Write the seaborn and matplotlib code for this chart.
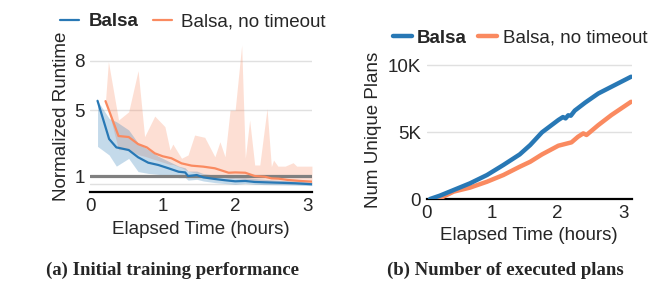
import numpy as np
import pandas as pd
import seaborn as sns
import matplotlib.pyplot as plt

# (a) normalized runtime vs elapsed hours
balsa_h = [0.10, 0.26, 0.36, 0.53, 0.66, 0.80, 0.94, 1.08, 1.22, 1.31, 1.35, 1.47, 1.56,
           1.72, 1.85, 2.00, 2.14, 2.27, 2.40, 2.55, 2.70, 2.83, 2.95, 3.06]
balsa_rt = [5.57, 3.25, 2.74, 2.58, 2.14, 1.81, 1.67, 1.47, 1.26, 1.22, 1.00, 1.06, 0.92,
            0.82, 0.75, 0.68, 0.70, 0.64, 0.62, 0.60, 0.58, 0.56, 0.53, 0.50]
balsa_lo = [2.80, 2.28, 1.60, 2.07, 1.27, 1.16, 1.10, 1.05, 0.90, 0.90, 0.75, 0.80, 0.70,
            0.60, 0.55, 0.50, 0.55, 0.50, 0.48, 0.47, 0.46, 0.45, 0.43, 0.42]
balsa_hi = [5.57, 4.50, 4.30, 3.80, 3.00, 2.60, 2.20, 1.90, 1.60, 1.50, 1.30, 1.30, 1.15,
            1.05, 0.95, 0.90, 0.90, 0.85, 0.80, 0.75, 0.72, 0.70, 0.66, 0.62]

nt_h = [0.21, 0.39, 0.53, 0.66, 0.78, 0.89, 1.00, 1.12, 1.26, 1.40, 1.56, 1.72, 1.91,
        2.00, 2.14, 2.27, 2.41, 2.50, 2.60, 2.73, 2.90, 3.06]
nt_rt = [5.55, 3.43, 3.37, 2.94, 2.74, 2.38, 2.20, 2.08, 1.77, 1.63, 1.57, 1.47, 1.20,
         1.22, 1.20, 1.00, 0.96, 0.86, 0.84, 0.76, 0.70, 0.66]

nt_band_h = [0.21, 0.25, 0.39, 0.53, 0.66, 0.75, 0.89, 1.03, 1.10, 1.14, 1.26, 1.35, 1.44,
             1.58, 1.72, 1.79, 1.86, 1.93, 2.00, 2.09, 2.14, 2.20, 2.27, 2.34, 2.44, 2.50,
             2.53, 2.59, 2.69, 2.80, 2.85, 3.06]
nt_hi = [5.55, 7.95, 4.40, 4.90, 7.40, 3.39, 4.64, 4.00, 2.58, 2.94, 2.08, 2.28, 3.49,
         3.35, 2.17, 3.08, 2.17, 5.00, 5.00, 8.95, 2.08, 4.40, 1.67, 1.67, 5.10, 1.57,
         1.97, 1.60, 1.60, 1.81, 1.60, 1.60]
nt_lo = [5.55, 5.00, 2.60, 2.60, 2.30, 2.20, 2.00, 1.80, 1.70, 1.70, 1.50, 1.30, 1.20,
         1.10, 1.00, 0.95, 0.90, 0.85, 0.85, 0.80, 0.80, 0.75, 0.70, 0.70, 0.65, 0.62,
         0.60, 0.60, 0.58, 0.56, 0.55, 0.52]

# (b) number of unique plans executed
plans_balsa_h = [0.05, 0.20, 0.41, 0.66, 0.92, 1.17, 1.42, 1.58, 1.76, 2.01, 2.08, 2.12,
                 2.16, 2.20, 2.26, 2.42, 2.62, 2.82, 3.12]
plans_balsa = [0, 250, 670, 1170, 1790, 2540, 3330, 4030, 4980, 5900, 6120, 6020,
               6250, 6220, 6600, 7200, 7880, 8380, 9130]
plans_nt_h = [0.18, 0.41, 0.66, 0.92, 1.17, 1.42, 1.58, 1.76, 2.01, 2.21, 2.31, 2.39,
              2.44, 2.62, 2.82, 3.12]
plans_nt = [0, 550, 850, 1290, 1790, 2410, 2780, 3330, 3980, 4230, 4650, 4900,
            4780, 5520, 6270, 7260]

blue = "#2878b5"
orange = "#fa8a60"
grid_c = "#e0e0e0"

sns.set_style("white")
plt.rcParams['font.family'] = ['Liberation Sans', 'DejaVu Sans']
plt.rcParams['font.size'] = 13.5

fig = plt.figure(figsize=(6.5, 2.88), dpi=100)
ax1 = fig.add_axes([0.1389, 0.3316, 0.341, 0.526])
ax2 = fig.add_axes([0.6565, 0.309, 0.3154, 0.479])

# ---- left panel
for y in [0.5, 5, 8]:
    ax1.axhline(y, color=grid_c, lw=1.0, zorder=0)
ax1.fill_between(nt_band_h, nt_lo, nt_hi, color=orange, alpha=0.27, lw=0, zorder=1)
ax1.fill_between(balsa_h, balsa_lo, balsa_hi, color=blue, alpha=0.27, lw=0, zorder=1)
ax1.axhline(1, color="#808080", lw=2.3, zorder=2)
sns.lineplot(x=nt_h, y=nt_rt, ax=ax1, color=orange, lw=1.6, label="Balsa, no timeout", zorder=3)
sns.lineplot(x=balsa_h, y=balsa_rt, ax=ax1, color=blue, lw=1.6, label="Balsa", zorder=4)
ax1.set_xlim(0, 3.06)
ax1.set_ylim(0, 9.2)
ax1.set_yticks([1, 5, 8])
ax1.set_xticks([0, 1, 2, 3])
ax1.set_xlabel("Elapsed Time (hours)")
ax1.set_ylabel("Normalized Runtime", labelpad=3)
h1, l1 = ax1.get_legend_handles_labels()
ax1.legend_.remove()
leg1 = fig.legend(h1[::-1], l1[::-1], loc="center", bbox_to_anchor=(0.297, 0.925), ncol=2,
                  frameon=False, handlelength=1.0, handletextpad=0.5, columnspacing=0.8,
                  borderpad=0, fontsize=13.5)
leg1.get_texts()[0].set_fontweight("bold")

# ---- right panel
for y in [5000, 10000]:
    ax2.axhline(y, color=grid_c, lw=1.0, zorder=0)
sns.lineplot(x=plans_nt_h, y=plans_nt, ax=ax2, color=orange, lw=3.2, label="Balsa, no timeout", zorder=3)
sns.lineplot(x=plans_balsa_h, y=plans_balsa, ax=ax2, color=blue, lw=3.2, label="Balsa", zorder=4)
ax2.set_xlim(0, 3.13)
ax2.set_ylim(0, 10300)
ax2.set_yticks([0, 5000, 10000])
ax2.set_yticklabels(["0", "5K", "10K"])
ax2.set_xticks([0, 1, 2, 3])
ax2.set_xlabel("Elapsed Time (hours)")
ax2.set_ylabel("Num Unique Plans", labelpad=4)
h2, l2 = ax2.get_legend_handles_labels()
ax2.legend_.remove()
leg2 = fig.legend(h2[::-1], l2[::-1], loc="center", bbox_to_anchor=(0.8, 0.868), ncol=2,
                  frameon=False, handlelength=1.0, handletextpad=0.3, columnspacing=0.6,
                  borderpad=0, fontsize=13.5)
leg2.get_texts()[0].set_fontweight("bold")

for ax in (ax1, ax2):
    sns.despine(ax=ax, left=True, top=True, right=True)
    ax.spines["bottom"].set_linewidth(1.6)
    ax.spines["bottom"].set_color("black")
    ax.tick_params(length=0, pad=4)

fig.text(0.265, 0.062, "(a) Initial training performance", ha="center", va="center",
         family="Liberation Serif", weight="bold", fontsize=13.5)
fig.text(0.778, 0.062, "(b) Number of executed plans", ha="center", va="center",
         family="Liberation Serif", weight="bold", fontsize=13.5)

fig.savefig("out.png", dpi=100)
